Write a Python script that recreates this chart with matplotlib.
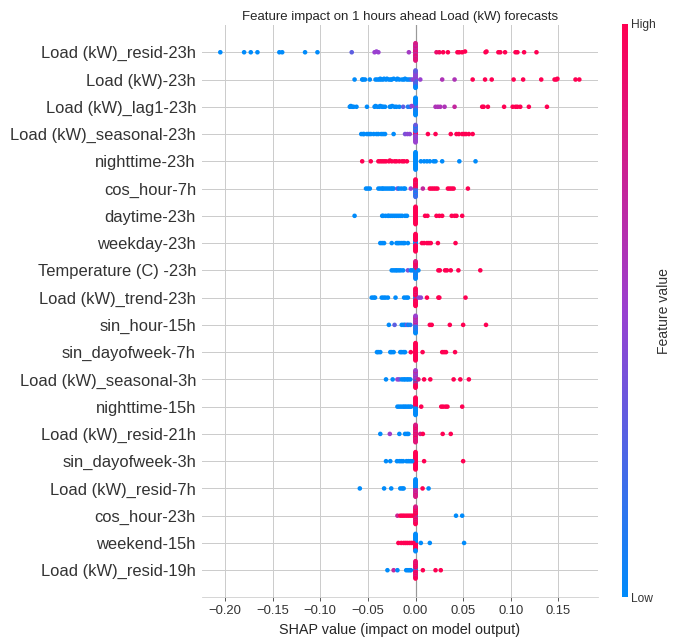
import numpy as np
import matplotlib
matplotlib.use("Agg")
import matplotlib.pyplot as plt
from matplotlib.colors import LinearSegmentedColormap
from matplotlib.ticker import MultipleLocator

plt.rcParams["font.family"] = ["Liberation Sans", "DejaVu Sans"]

# feature names, top to bottom
features = [
    "Load (kW)_resid-23h", "Load (kW)-23h", "Load (kW)_lag1-23h", "Load (kW)_seasonal-23h",
    "nighttime-23h", "cos_hour-7h", "daytime-23h", "weekday-23h", "Temperature (C) -23h",
    "Load (kW)_trend-23h", "sin_hour-15h", "sin_dayofweek-7h", "Load (kW)_seasonal-3h",
    "nighttime-15h", "Load (kW)_resid-21h", "sin_dayofweek-3h", "Load (kW)_resid-7h",
    "cos_hour-23h", "weekend-15h", "Load (kW)_resid-19h",
]

# per feature: SHAP values off zero, their feature values (0 low .. 1 high),
# and the feature values of the samples sitting at SHAP = 0
resid23_shap = [-0.205, -0.180, -0.173, -0.166, -0.143, -0.140, -0.116, -0.103, -0.067, -0.043,
                -0.041, -0.039, -0.007, 0.022, 0.025, 0.029, 0.034, 0.044, 0.046, 0.049, 0.052,
                0.0735, 0.0745, 0.087, 0.089, 0.094, 0.105, 0.107, 0.114, 0.127]
resid23_feat = [0, 0, 0, 0, 0, 0, 0, 0, 0.3, 0.5, 0.5, 0.5, 0.55, 0.9, 0.95, 1, 1, 1, 1, 1, 1,
                1, 1, 1, 1, 1, 1, 1, 1, 1]
resid23_zero = [0.8, 0.85, 0.7, 0.9, 0.75, 0.8, 0.65, 0.9, 0.8, 0.7, 0.85, 0.75, 0.9, 0.6, 0.8,
                0.85, 0.7, 0.8, 0.9, 0.75, 0.8, 0.65, 0.85, 0.8]

load23_shap = [-0.064, -0.056, -0.055, -0.053, -0.048, -0.042, -0.040, -0.038, -0.037, -0.036,
               -0.034, -0.033, -0.031, -0.030, -0.028, -0.026, -0.025, -0.023, -0.020, -0.019,
               -0.017, -0.014, -0.012, -0.011, -0.009, -0.007, -0.005, -0.003, 0.005, 0.028,
               0.041, 0.060, 0.073, 0.080, 0.103, 0.113, 0.132, 0.146, 0.148, 0.149, 0.168, 0.172]
load23_feat = [0, 0, 0, 0, 0, 0, 0, 0, 0, 0, 0, 0, 0, 0, 0, 0, 0, 0, 0, 0, 0, 0, 0, 0, 0, 0,
               0.15, 0.45, 0.5, 0.6, 0.6, 1, 1, 1, 1, 1, 1, 1, 1, 1, 1, 1]
load23_zero = [0.3, 0.45, 0.2, 0.5, 0.35, 0.4, 0.1, 0.55, 0.3, 0.4, 0.2, 0.5, 0.35, 0.45, 0.15,
               0.4, 0.3, 0.5, 0.1, 0.35, 0.05, 0.4, 0.0, 0.3]

lag1_shap = [-0.069, -0.068, -0.0665, -0.065, -0.062, -0.051, -0.043, -0.042, -0.040, -0.038,
             -0.037, -0.035, -0.034, -0.032, -0.027, -0.026, -0.0245, -0.022, -0.020, -0.017,
             -0.013, -0.008, -0.0055, -0.004, 0.021, 0.0235, 0.026, 0.0305, 0.041, 0.070,
             0.0715, 0.076, 0.093, 0.102, 0.105, 0.107, 0.110, 0.119, 0.138]
lag1_feat = [0, 0, 0, 0, 0, 0, 0, 0, 0, 0, 0, 0, 0, 0, 0, 0, 0, 0, 0, 0, 0.3, 0.1, 0.1, 0.5,
             0.6, 0.6, 0.6, 0.6, 0.7, 1, 1, 1, 1, 1, 1, 1, 1, 1, 1]
lag1_zero = [0.55, 0.5, 0.45, 0.4, 0.5, 0.3, 0.2, 0.1, 0.3, 0.05, 0.0, 0.0, 0.1, 0.0, 0.0, 0.0,
             0.05, 0.0, 0.0, 0.0, 0.0, 0.0, 0.0, 0.0]

seas23_shap = [-0.057, -0.055, -0.054, -0.051, -0.049, -0.047, -0.044, -0.041, -0.039, -0.036,
               -0.034, -0.032, -0.023, -0.011, -0.0085, -0.006, 0.013, 0.021, 0.037, 0.043,
               0.0455, 0.049, 0.051, 0.053, 0.056, 0.060]
seas23_feat = [0, 0, 0, 0, 0, 0, 0, 0, 0, 0, 0, 0, 0, 0.4, 0.45, 0.45, 1, 1, 1, 1, 1, 1, 1, 1,
               1, 1]
seas23_zero = [1.0, 1.0, 0.9, 1.0, 0.6, 0.8, 0.5, 0.3, 0.5, 0.0, 0.45, 0.3, 0.5, 0.0, 0.4, 0.4,
               0.5, 0.1, 0.55, 0.3, 0.45, 0.0, 0.5, 0.35]

night23_shap = [-0.056, -0.047, -0.039, -0.037, -0.035, -0.033, -0.031, -0.028, -0.027, -0.025,
                -0.022, -0.020, -0.017, -0.014, -0.012, -0.009, 0.0056, 0.009, 0.012, 0.015,
                0.019, 0.021, 0.028, 0.046, 0.063]
night23_feat = [1, 1, 1, 1, 1, 1, 1, 1, 1, 1, 1, 1, 1, 1, 1, 1, 0, 0, 0, 0, 0, 0, 0, 0, 0]
night23_zero = [0, 0, 0, 0, 0, 0, 0, 0, 0, 0, 0, 0, 0, 0, 0, 0, 0, 0, 0, 0, 0, 0, 0, 0]

cos7_shap = [-0.052, -0.050, -0.048, -0.039, -0.037, -0.035, -0.034, -0.032, -0.030, -0.028,
             -0.026, -0.0245, -0.023, -0.019, -0.0175, -0.015, -0.0125, -0.011, -0.005, 0.0077,
             0.015, 0.017, 0.019, 0.021, 0.023, 0.034, 0.036, 0.038, 0.040, 0.055]
cos7_feat = [0, 0, 0, 0, 0, 0, 0, 0, 0, 0, 0, 0, 0, 0.4, 0, 0, 0, 0, 0.5, 0.7, 1, 1, 1, 1, 1,
             1, 1, 1, 1, 1]
cos7_zero = [0.5, 1.0, 0.0, 0.9, 0.4, 1.0, 0.0, 0.8, 0.5, 1.0, 0.1, 1.0, 0.0, 0.9, 0.3, 1.0,
             0.0, 1.0, 0.4, 0.8, 0.0, 1.0, 0.2, 1.0]

day23_shap = [-0.064, -0.035, -0.034, -0.0315, -0.029, -0.028, -0.026, -0.024, -0.022, -0.020,
              -0.018, -0.016, -0.014, -0.011, -0.009, 0.010, 0.0125, 0.022, 0.025, 0.028,
              0.038, 0.041, 0.043, 0.049]
day23_feat = [0, 0, 0, 0, 0, 0, 0, 0, 0, 0, 0, 0, 0, 0, 0, 1, 1, 1, 1, 1, 1, 1, 1, 1]
day23_zero = [0.0, 1, 1, 1, 1, 1, 1, 1, 1, 1, 1, 1, 1, 1, 1, 1, 1, 1, 1, 1, 1, 1, 1, 1]

wkday23_shap = [-0.037, -0.035, -0.033, -0.025, -0.020, -0.0185, -0.017, -0.015, -0.013,
                -0.0115, -0.008, 0.0067, 0.009, 0.012, 0.014, 0.016, 0.0235, 0.042]
wkday23_feat = [0, 0, 0, 0, 0, 0, 0, 0, 0, 0, 0, 1, 1, 1, 1, 1, 1, 1]
wkday23_zero = [0, 0, 0, 0, 0, 0.1, 1, 1, 1, 1, 1, 1, 1, 1, 1, 1, 1, 1, 1, 1, 1, 1, 1, 1]

temp23_shap = [-0.025, -0.023, -0.021, -0.0195, -0.0175, -0.0155, -0.013, -0.008, -0.005,
               -0.003, 0.003, 0.024, 0.0255, 0.031, 0.033, 0.037, 0.045, 0.068]
temp23_feat = [0, 0, 0, 0, 0, 0, 0, 0.4, 0, 0, 0, 1, 1, 1, 1, 1, 1, 1]
temp23_zero = [0.0, 0.9, 0.0, 1.0, 0.1, 0.8, 0.0, 1.0, 0.3, 0.9, 0.0, 0.7, 0.0, 1.0, 0.1, 0.8,
               0.0, 1.0, 0.0, 0.9, 0.2, 1.0, 0.0, 0.8]

trend23_shap = [-0.046, -0.044, -0.0425, -0.0355, -0.0335, -0.0315, -0.029, -0.021, -0.012,
                -0.0098, -0.008, 0.0035, 0.0056, 0.012, 0.024, 0.025, 0.0525]
trend23_feat = [0, 0, 0, 0, 0, 0, 0, 0, 0, 0, 0, 0.45, 0.45, 1, 1, 1, 1]
trend23_zero = [0.0, 0.1, 0.0, 0.3, 0.0, 1.0, 0.8, 1.0, 0.9, 1.0, 1.0, 0.8, 1.0, 1.0, 0.9, 1.0,
                1.0, 0.8, 1.0, 1.0, 1.0, 0.9, 1.0, 1.0]

sinh15_shap = [-0.028, -0.022, -0.0145, -0.0125, -0.011, -0.009, -0.0075, -0.0055, 0.015,
               0.017, 0.036, 0.050, 0.074]
sinh15_feat = [0, 0.3, 0, 0, 0, 0.4, 0, 0.1, 1, 1, 1, 1, 1]
sinh15_zero = [0.5, 0.6, 0.2, 0.7, 0.4, 0.5, 0.1, 0.8, 0.3, 0.6, 0.0, 0.5, 0.2, 0.7, 0.0, 0.6,
               0.3, 0.5, 0.0, 0.8, 0.1, 0.6, 0.0, 0.5]

sindow7_shap = [-0.0405, -0.039, -0.037, -0.0265, -0.025, -0.023, -0.016, -0.0145, -0.0125,
                -0.011, -0.005, 0.0074, 0.028, 0.030, 0.032, 0.0415]
sindow7_feat = [0, 0, 0, 0, 0, 0, 0, 0, 0, 0, 1, 1, 1, 1, 1, 1]
sindow7_zero = [1, 1, 1, 0.95, 1, 1, 1, 1, 0.95, 1, 1, 1, 1, 1, 1, 0.95, 1, 1, 1, 1, 1, 1, 1, 1]

seas3_shap = [-0.031, -0.024, -0.019, -0.017, -0.0145, -0.0125, -0.011, -0.009, -0.0075,
              -0.0055, 0.003, 0.009, 0.0155, 0.040, 0.047, 0.056]
seas3_feat = [0, 0, 0.5, 0.4, 0, 0, 0, 0, 0, 0, 0.8, 1, 1, 1, 1, 1]
seas3_zero = [0.0, 0.5, 0.8, 0.5, 0.0, 0.45, 0.9, 0.6, 0.0, 0.5, 1.0, 0.7, 0.2, 0.4, 1.0, 0.5,
              0.9, 0.6, 1.0, 0.5, 1.0, 0.8, 1.0, 0.5]

night15_shap = [-0.019, -0.017, -0.015, -0.013, -0.0115, -0.0098, -0.008, -0.0063, -0.0046,
                0.006, 0.027, 0.029, 0.0315, 0.0335, 0.049]
night15_feat = [0, 0, 0, 0, 0, 0, 0, 0, 0, 1, 1, 1, 1, 1, 1]
night15_zero = [1, 1, 1, 1, 0, 1, 0, 1, 0, 1, 0, 1, 0, 1, 0, 1, 0, 1, 0, 1, 0, 1, 0, 1]

resid21_shap = [-0.037, -0.027, -0.017, -0.011, -0.009, -0.0075, 0.005, 0.0077, 0.0285, 0.037]
resid21_feat = [0, 0.55, 0, 0, 0, 0, 0.8, 1, 1, 1]
resid21_zero = [0.8, 0.9, 0.7, 1.0, 0.85, 0.75, 0.9, 1.0, 0.8, 0.7, 0.9, 0.85, 1.0, 0.8, 0.75,
                0.9, 0.85, 1.0, 0.8, 0.7, 0.9, 1.0, 0.85, 0.8]

sindow3_shap = [-0.031, -0.0265, -0.0195, -0.017, -0.015, -0.013, -0.0095, -0.0075, -0.0055,
                -0.0035, 0.009, 0.050]
sindow3_feat = [0, 0, 0, 0, 0, 0, 0, 0, 0, 0, 1, 1]
sindow3_zero = [1, 1, 1, 1, 1, 1, 1, 1, 1, 1, 1, 1, 1, 1, 1, 1, 1, 1, 1, 1, 1, 1, 1, 1]

resid7_shap = [-0.0585, -0.033, -0.0255, -0.016, -0.014, -0.0125, 0.0074, 0.0137]
resid7_feat = [0, 0, 0, 0, 0, 0, 1, 0]
resid7_zero = [0.7, 0.0, 0.8, 0.0, 0.6, 0.0, 0.9, 0.0, 0.5, 0.1, 0.8, 0.0, 0.7, 0.0, 0.85, 0.0,
               0.6, 0.0, 0.9, 0.0, 0.75, 0.0, 0.8, 0.0]

cos23_shap = [-0.019, -0.016, -0.014, -0.012, -0.0098, -0.0077, -0.0056, -0.0035, 0.0425, 0.049]
cos23_feat = [0.75, 1, 1, 1, 1, 1, 1, 1, 0, 0]
cos23_zero = [0.0, 0.1, 0.0, 1.0, 0.8, 1.0, 0.9, 1.0, 0.7, 1.0, 0.9, 0.8, 1.0, 1.0, 0.75, 1.0,
              0.9, 0.8, 1.0, 1.0, 0.85, 0.9, 1.0, 0.8]

wkend15_shap = [-0.018, -0.015, -0.0125, -0.0105, -0.0085, -0.0063, -0.0042, -0.0021, 0.0056,
                0.015, 0.051]
wkend15_feat = [1, 1, 1, 1, 1, 1, 1, 1, 0, 0, 0]
wkend15_zero = [0.0, 0.0, 1.0, 0.0, 1.0, 0.0, 1.0, 0.0, 1.0, 0.0, 1.0, 0.0, 1.0, 0.0, 1.0, 0.0,
                1.0, 0.0, 1.0, 0.0, 0.0, 0.0, 0.0, 0.0]

resid19_shap = [-0.0295, -0.023, -0.019, -0.0098, -0.008, -0.0063, -0.0049, 0.0077, 0.021,
                0.0265]
resid19_feat = [0, 0.7, 0, 0, 0, 0, 0, 1, 1, 1]
resid19_zero = [0.9, 0.0, 1.0, 0.0, 0.8, 0.3, 1.0, 0.9, 0.85, 1.0, 1.0, 0.8, 0.9, 1.0, 0.8, 0.9,
                1.0, 0.85, 0.8, 1.0, 0.9, 0.8, 1.0, 0.9]

rows = [
    (resid23_shap, resid23_feat, resid23_zero), (load23_shap, load23_feat, load23_zero),
    (lag1_shap, lag1_feat, lag1_zero), (seas23_shap, seas23_feat, seas23_zero),
    (night23_shap, night23_feat, night23_zero), (cos7_shap, cos7_feat, cos7_zero),
    (day23_shap, day23_feat, day23_zero), (wkday23_shap, wkday23_feat, wkday23_zero),
    (temp23_shap, temp23_feat, temp23_zero), (trend23_shap, trend23_feat, trend23_zero),
    (sinh15_shap, sinh15_feat, sinh15_zero), (sindow7_shap, sindow7_feat, sindow7_zero),
    (seas3_shap, seas3_feat, seas3_zero), (night15_shap, night15_feat, night15_zero),
    (resid21_shap, resid21_feat, resid21_zero), (sindow3_shap, sindow3_feat, sindow3_zero),
    (resid7_shap, resid7_feat, resid7_zero), (cos23_shap, cos23_feat, cos23_zero),
    (wkend15_shap, wkend15_feat, wkend15_zero), (resid19_shap, resid19_feat, resid19_zero),
]

red_blue = LinearSegmentedColormap.from_list("red_blue", ["#008bfb", "#9a40d0", "#ff0052"])


def swarm_offsets(vals, row_height=0.4, nbins=100):
    # same binning/stacking as shap's beeswarm
    vals = np.asarray(vals, dtype=float)
    quant = np.round(nbins * (vals - vals.min()) / (vals.max() - vals.min() + 1e-8))
    inds = np.argsort(quant, kind="stable")
    ys = np.zeros(len(vals))
    layer, last_bin = 0, -1
    for i in inds:
        if quant[i] != last_bin:
            layer = 0
        ys[i] = np.ceil(layer / 2) * ((layer % 2) * 2 - 1)
        layer += 1
        last_bin = quant[i]
    return ys * 0.9 * (row_height / np.max(ys + 1))


fig = plt.figure(figsize=(677 / 72, 641 / 72), dpi=72)
ax = fig.add_axes([0.2984, 0.0679, 0.5849, 0.8931])
cax = fig.add_axes([0.9183, 0.0679, 0.0089, 0.8947])

n = len(features)
ax.axvline(0, color="#999999", lw=1.2, zorder=1)
for i, (sv, fv, zv) in enumerate(rows):
    pos = n - 1 - i
    ax.axhline(pos, color="#cccccc", lw=1, zorder=0)
    vals = np.concatenate([np.zeros(len(zv)), sv])
    cols = np.concatenate([zv, fv])
    ys = swarm_offsets(vals)
    ax.scatter(vals, pos + ys, c=cols, cmap=red_blue, vmin=0, vmax=1, s=21,
               linewidths=0, zorder=3)

ax.set_xlim(-0.2242, 0.1916)
ax.set_ylim(-1, n)
ax.xaxis.set_major_locator(MultipleLocator(0.05))
ax.grid(axis="x", color="#cccccc", lw=1, zorder=0)
ax.set_axisbelow(True)
ax.set_yticks(range(n))
ax.set_yticklabels(features[::-1])
for side in ["top", "right", "left"]:
    ax.spines[side].set_visible(False)
ax.spines["bottom"].set_color("#cccccc")
ax.tick_params(axis="y", length=0, pad=6, labelsize=16.5, labelcolor="#333333")
ax.tick_params(axis="x", length=4, color="#333333", labelsize=13, labelcolor="#333333")
ax.set_xlabel("SHAP value (impact on model output)", fontsize=14.4, color="#262626",
              labelpad=6)
ax.set_title("Feature impact on 1 hours ahead Load (kW) forecasts", fontsize=13.2,
             color="#262626", pad=5)

sm = plt.cm.ScalarMappable(cmap=red_blue, norm=plt.Normalize(0, 1))
cb = fig.colorbar(sm, cax=cax, ticks=[0, 1])
cb.set_ticklabels(["Low", "High"])
cb.set_label("Feature value", size=14, labelpad=1, color="#333333")
cb.ax.tick_params(labelsize=12, length=0, labelcolor="#333333")
cb.outline.set_visible(False)

fig.savefig("out.png", dpi=72, facecolor="white")
